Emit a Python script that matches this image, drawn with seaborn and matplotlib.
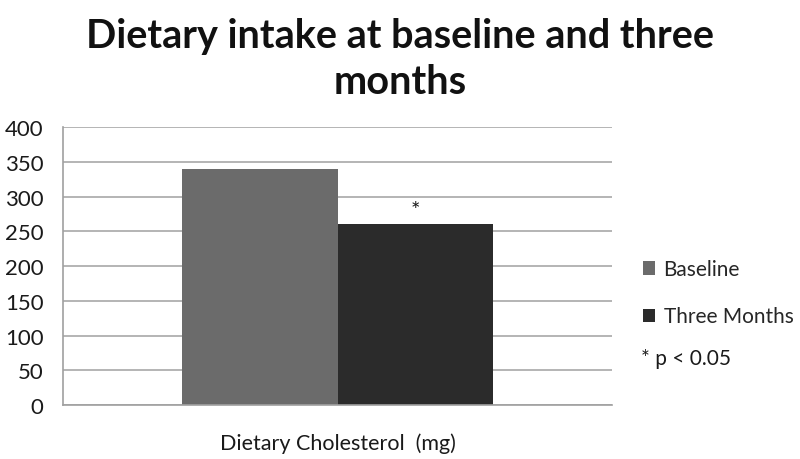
import matplotlib
matplotlib.use("Agg")
import matplotlib.pyplot as plt
import seaborn as sns
import pandas as pd
from matplotlib.patches import Patch

categories = ["Dietary Cholesterol  (mg)"]
series = ["Baseline", "Three Months"]
values = [340, 260]
significant = [False, True]
yticks = [0, 50, 100, 150, 200, 250, 300, 350, 400]
colors = ["#6b6b6b", "#2b2b2b"]

df = pd.DataFrame({
    "Category": categories * len(series),
    "Period": series,
    "Value": values,
})

sns.set_theme(style="white")
plt.rcParams["font.family"] = ["Lato", "DejaVu Sans"]

fig = plt.figure(figsize=(8, 4.6), dpi=100)
ax = fig.add_axes([0.07875, 0.1174, 0.6863, 0.6043])

sns.barplot(data=df, x="Category", y="Value", hue="Period", palette=colors,
            width=0.565, gap=0, ax=ax, legend=False, saturation=1,
            edgecolor="none", linewidth=0)

ax.set_ylim(0, 400)
ax.set_xlim(-0.5, 0.5)
ax.set_yticks(yticks)
ax.set_yticklabels([str(t) for t in yticks], fontsize=16, color="#1a1a1a")
ax.yaxis.grid(True, color="#a8a8a8", linewidth=1.2)
ax.set_axisbelow(True)
ax.tick_params(axis="y", length=0, pad=14)
ax.tick_params(axis="x", length=0, pad=20, labelsize=15.5, labelcolor="#1a1a1a")
ax.set_xlabel("")
ax.set_ylabel("")
for s in ["top", "right"]:
    ax.spines[s].set_visible(False)
for s in ["left", "bottom"]:
    ax.spines[s].set_color("#a0a0a0")
    ax.spines[s].set_linewidth(1.2)

# significance star
for bar, val, sig in zip(ax.patches, values, significant):
    if sig:
        ax.text(bar.get_x() + bar.get_width() / 2, val + 21, "*",
                ha="center", va="center", fontsize=16, color="#1a1a1a")

fig.suptitle("Dietary intake at baseline and three\nmonths", fontsize=28.5,
             fontweight="bold", x=0.5, y=0.96, va="top", linespacing=1.3,
             color="#111111")

handles = [Patch(facecolor=c, edgecolor="none") for c in colors]
leg = fig.legend(handles, series, loc="upper left", bbox_to_anchor=(0.793, 0.452),
                 frameon=False, fontsize=15, handlelength=0.6, handleheight=0.6,
                 handletextpad=0.4, labelspacing=1.3, borderaxespad=0)
fig.text(0.801, 0.22, "* p < 0.05", fontsize=15, va="center", ha="left",
         color="#1a1a1a")

fig.savefig("out.png", dpi=100)
